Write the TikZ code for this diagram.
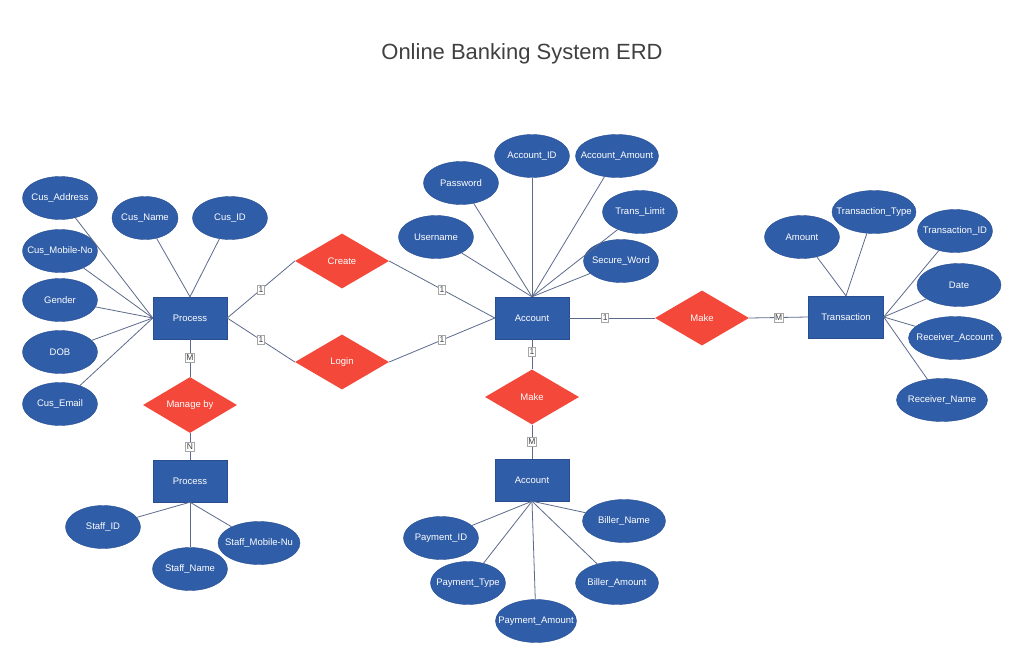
\documentclass[tikz,border=0pt]{standalone}
\usepackage{fontspec}
\setmainfont{Liberation Sans}
\usetikzlibrary{shapes.geometric}
\definecolor{erblue}{RGB}{47,93,168}
\definecolor{erborder}{RGB}{40,78,145}
\definecolor{erred}{RGB}{243,72,58}
\definecolor{erline}{RGB}{92,106,140}
\begin{document}
\begin{tikzpicture}[x=1pt,y=-1pt,
  lbl/.style={text=white,font=\fontsize{9.5}{11}\selectfont,inner sep=0pt},
  ent/.style={rectangle,fill=erblue,draw=erborder,minimum width=74pt,minimum height=42pt,lbl},
  attr/.style={ellipse,fill=erblue,draw=erborder,minimum width=75pt,minimum height=43pt,inner sep=0pt,label={[lbl]center:#1}},
  rel/.style={diamond,fill=erred,minimum width=94pt,minimum height=55pt,inner sep=0pt,lbl},
  link/.style={draw=erline,line width=0.8pt},
  card/.style={fill=white,draw=gray!70,inner xsep=1.2pt,inner ysep=1.6pt,text=black!75,font=\fontsize{8.5}{9}\selectfont}]
\fill[white] (0,0) rectangle (1024,666);
\useasboundingbox (0,0) rectangle (1024,666);
\node[text=black!75,font=\fontsize{22}{24}\selectfont] (title) at (522,54) {Online Banking System ERD};
% entities and relations
\node[ent] (P) at (190,318) {Process};
\node[ent] (S) at (190,481) {Process};
\node[ent] (A) at (532,318) {Account};
\node[ent] (B) at (532,480) {Account};
\node[ent,minimum width=75pt] (T) at (846,317) {Transaction};
\node[rel] (Cr) at (342,261) {Create};
\node[rel] (Lg) at (342,362) {Login};
\node[rel] (Mb) at (190,405) {Manage by};
\node[rel] (Mt) at (702,318) {Make};
\node[rel] (Mp) at (532,397) {Make};
% attributes
\node[attr=Cus\_Address] (cadd) at (60,198) {};
\node[attr=Cus\_Mobile-No] (cmob) at (60,251) {};
\node[attr=Gender] (cgen) at (60,300) {};
\node[attr=DOB] (cdob) at (60,352) {};
\node[attr=Cus\_Email] (cmail) at (60,404) {};
\node[attr=Cus\_Name,minimum width=66pt] (cname) at (145,218) {};
\node[attr=Cus\_ID] (cid) at (230,218) {};
\node[attr=Staff\_ID] (sid) at (103,527) {};
\node[attr=Staff\_Name] (sname) at (190,569) {};
\node[attr=Staff\_Mobile-Nu,minimum width=82pt] (smob) at (259,543) {};
\node[attr=Username] (auser) at (436,237) {};
\node[attr=Password] (apass) at (461,183) {};
\node[attr=Account\_ID] (aid) at (532,156) {};
\node[attr=Account\_Amount,minimum width=83pt] (aamt) at (617,156) {};
\node[attr=Trans\_Limit] (alim) at (640,212) {};
\node[attr=Secure\_Word] (asec) at (621,261) {};
\node[attr=Amount] (tamt) at (802,237) {};
\node[attr=Transaction\_Type,minimum width=84pt] (ttype) at (874,212) {};
\node[attr=Transaction\_ID] (tid) at (955,231) {};
\node[attr=Date,minimum width=84pt] (tdate) at (959,285) {};
\node[attr=Receiver\_Account,minimum width=93pt] (tracc) at (955,338) {};
\node[attr=Receiver\_Name,minimum width=91pt] (trname) at (942,400) {};
\node[attr=Payment\_ID] (pid) at (441,538) {};
\node[attr=Payment\_Type] (ptype) at (468,583) {};
\node[attr=Payment\_Amount,minimum width=81pt] (pamt) at (536,621) {};
\node[attr=Biller\_Name,minimum width=83pt] (bname) at (624,521) {};
\node[attr=Biller\_Amount,minimum width=83pt] (bamt) at (617,583) {};
% attribute links
\foreach \a in {cadd,cmob,cgen,cdob,cmail}
  \draw[link] (\a) -- (P.west);
\foreach \a in {cname,cid}
  \draw[link] (\a) -- (P.north);
\foreach \a in {sid,sname,smob}
  \draw[link] (\a) -- (S.south);
\foreach \a in {auser,apass,aid,aamt,alim,asec}
  \draw[link] (\a) -- (A.north);
\foreach \a in {tamt,ttype}
  \draw[link] (\a) -- (T.north);
\foreach \a in {tid,tdate,tracc,trname}
  \draw[link] (\a) -- (T.east);
\foreach \a in {pid,ptype,pamt,bname,bamt}
  \draw[link] (\a) -- (B.south);
% relationship links
\draw[link] (P.east) -- node[card]{1} (Cr.west);
\draw[link] (Cr.east) -- node[card]{1} (A.west);
\draw[link] (P.east) -- node[card]{1} (Lg.west);
\draw[link] (Lg.east) -- node[card]{1} (A.west);
\draw[link] (P.south) -- node[card]{M} (Mb.north);
\draw[link] (Mb.south) -- node[card]{N} (S.north);
\draw[link] (A.east) -- node[card,pos=0.42]{1} (Mt.west);
\draw[link] (Mt.east) -- node[card]{M} (T.west);
\draw[link] (A.south) -- node[card,pos=0.42]{1} (Mp.north);
\draw[link] (Mp.south) -- node[card]{M} (B.north);
\end{tikzpicture}
\end{document}
